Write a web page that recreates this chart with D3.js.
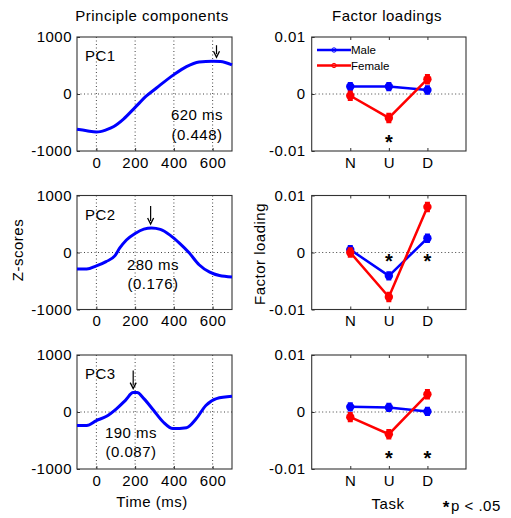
<!DOCTYPE html>
<html>
<head>
<meta charset="utf-8">
<script src="https://cdn.jsdelivr.net/npm/d3@7"></script>
<style>
  body { margin: 0; background: #fff; }
  text { font-family: "Liberation Sans", Arial, sans-serif; }
</style>
</head>
<body>
<div id="graf"></div>
<script>
// Componentes principales + cargas factoriales

// Datos
tiempo1 = [-100, -50, 0, 20, 50, 90, 140, 200, 260, 310, 400, 465, 530, 600, 640, 700]
pc1     = [-620, -645, -665, -660, -630, -570, -440, -235, -30, 105, 340, 480, 560, 575, 570, 510]
tiempo2 = [-100, -50, 0, 50, 95, 120, 155, 200, 245, 285, 330, 380, 430, 480, 530, 585, 635, 700]
pc2     = [-290, -290, -235, -160, -60, 75, 220, 335, 410, 430, 405, 305, 160, -10, -215, -345, -405, -430]
tiempo3 = [-100, -50, 0, 50, 105, 150, 190, 210, 245, 295, 345, 395, 465, 515, 565, 620, 700]
pc3     = [-235, -235, -150, -80, 60, 205, 340, 340, 235, 30, -175, -290, -275, -120, 115, 235, 275]

picos    = [620, 280, 190]
etiquetas = ['PC1', 'PC2', 'PC3']
latencia = ['620 ms', '280 ms', '190 ms']
varianza = ['(0.448)', '(0.176)', '(0.087)']

tareas = ['N', 'U', 'D']
male1   = [0.0013, 0.0013, 0.0007]
female1 = [-0.0003, -0.0042, 0.0026]
male2   = [0.0005, -0.0041, 0.0025]
female2 = [0.0000, -0.0078, 0.0080]
male3   = [0.0009, 0.0008, 0.0001]
female3 = [-0.0009, -0.0039, 0.0031]
errMale   = [0.0006, 0.0006, 0.0006]
errFemale = [0.0007, 0.0007, 0.0007]

// tareas con p < .05 y altura de la estrella
signif1 = ['U']
signif2 = ['U', 'D']
signif3 = ['U', 'D']
alturaEstrella = [-0.0076, -0.0008, -0.0073]

xTicks = [0, 200, 400, 600]
yTicksZ = [-1000, 0, 1000]
yTicksF = [-0.01, 0, 0.01]

// Geometria
ancho_total = 511
alto_total  = 518
tops  = [37, 195.5, 355]
alto  = 114
izq   = [77, 232]
der   = [311.7, 466]

svg = d3.select('#graf').append('svg')
        .attr('width', ancho_total)
        .attr('height', alto_total)

fuente = 15
espaciado = '0.5px'

x  = d3.scaleLinear().domain([-100, 700]).range(izq)
xt = d3.scalePoint().domain(['', 'N', 'U', 'D', ' ']).range(der)

componentes = [
  { t: tiempo1, v: pc1 },
  { t: tiempo2, v: pc2 },
  { t: tiempo3, v: pc3 }
]
cargas = [
  { m: male1, f: female1, s: signif1 },
  { m: male2, f: female2, s: signif2 },
  { m: male3, f: female3, s: signif3 }
]
largoFlecha = [12, 18, 18]

function txt(g, px, py, s, anchor, size) {
  return g.append('text')
          .attr('x', px).attr('y', py)
          .attr('text-anchor', anchor || 'start')
          .attr('font-size', (size || fuente) + 'px')
          .attr('letter-spacing', espaciado)
          .attr('fill', '#000')
          .text(s)
}

function estiloEje(g) {
  g.select('.domain').remove()
  g.selectAll('line').attr('stroke', '#333')
  g.selectAll('text')
    .attr('font-size', fuente + 'px')
    .attr('letter-spacing', espaciado)
    .attr('fill', '#000')
}

// estrella de significancia (texto "*")
function estrella(g, px, py, size) {
  return g.append('text')
          .attr('x', px)
          .attr('y', py + size * 0.56)
          .attr('text-anchor', 'middle')
          .attr('font-size', size + 'px')
          .attr('font-weight', 'bold')
          .attr('fill', '#000')
          .text('*')
}

tops.forEach((top, i) => {
  y = d3.scaleLinear().domain([-1000, 1000]).range([top + alto, top])
  yf = d3.scaleLinear().domain([-0.01, 0.01]).range([top + alto, top])

  // ---- panel izquierdo ----
  g = svg.append('g')

  // grilla punteada
  g.selectAll('.vgrid')
    .data(xTicks).enter()
    .append('line')
      .attr('x1', d => x(d)).attr('x2', d => x(d))
      .attr('y1', top).attr('y2', top + alto)
      .attr('stroke', '#444')
      .attr('stroke-dasharray', '1,2.5')
  g.append('line')
    .attr('x1', izq[0]).attr('x2', izq[1])
    .attr('y1', y(0)).attr('y2', y(0))
    .attr('stroke', '#444')
    .attr('stroke-dasharray', '1,2.5')

  ax = g.append('g')
        .attr('transform', `translate(0, ${ top + alto })`)
        .call(d3.axisBottom(x).tickValues(xTicks).tickSizeInner(-3).tickSizeOuter(0).tickPadding(6)
              .tickFormat(d => String(d)))
  estiloEje(ax)
  ay = g.append('g')
        .attr('transform', `translate(${ izq[0] }, 0)`)
        .call(d3.axisLeft(y).tickValues(yTicksZ).tickSizeInner(-3).tickSizeOuter(0).tickPadding(5)
              .tickFormat(d => String(d)))
  estiloEje(ay)

  g.append('rect')
    .attr('x', izq[0]).attr('y', top)
    .attr('width', izq[1] - izq[0]).attr('height', alto)
    .attr('fill', 'none').attr('stroke', '#333').attr('stroke-width', 1.1)

  c = componentes[i]
  puntos = c.t.map((t, k) => [t, c.v[k]])
  linea = d3.line().x(d => x(d[0])).y(d => y(d[1])).curve(d3.curveMonotoneX)
  g.append('path')
    .datum(puntos)
    .attr('d', linea)
    .attr('fill', 'none')
    .attr('stroke', '#0000ff')
    .attr('stroke-width', 3)
    .attr('stroke-linejoin', 'round')

  // flecha en el pico
  k = c.t.indexOf(picos[i])
  vpico = k >= 0 ? c.v[k] : d3.max(c.v)
  px = x(picos[i])
  punta = y(vpico) - 4
  g.append('line')
    .attr('x1', px).attr('x2', px)
    .attr('y1', punta - largoFlecha[i]).attr('y2', punta - 3)
    .attr('stroke', '#000').attr('stroke-width', 1.2)
  g.append('path')
    .attr('d', `M${px - 3},${punta - 6} L${px},${punta} L${px + 3},${punta - 6}`)
    .attr('fill', 'none').attr('stroke', '#000').attr('stroke-width', 1.3)

  txt(g, izq[0] + 8, top + 24, etiquetas[i])
  anotX = [197, 153, 131]
  anotY = [[120, 140], [270, 289], [438, 457]]
  txt(g, anotX[i], anotY[i][0], latencia[i], 'middle')
  txt(g, anotX[i], anotY[i][1], varianza[i], 'middle')

  // ---- panel derecho ----
  h = svg.append('g')
  h.append('line')
    .attr('x1', der[0]).attr('x2', der[1])
    .attr('y1', yf(0)).attr('y2', yf(0))
    .attr('stroke', '#444')
    .attr('stroke-dasharray', '1,2.5')

  bx = h.append('g')
        .attr('transform', `translate(0, ${ top + alto })`)
        .call(d3.axisBottom(xt).tickValues(tareas).tickSizeInner(-3).tickSizeOuter(0).tickPadding(6))
  estiloEje(bx)
  tx = h.append('g')
        .attr('transform', `translate(0, ${ top })`)
        .call(d3.axisTop(xt).tickValues(tareas).tickSizeInner(-3).tickSizeOuter(0).tickFormat(''))
  estiloEje(tx)
  by = h.append('g')
        .attr('transform', `translate(${ der[0] }, 0)`)
        .call(d3.axisLeft(yf).tickValues(yTicksF).tickSizeInner(-3).tickSizeOuter(0).tickPadding(6)
              .tickFormat(d => d === 0 ? '0' : d.toFixed(2)))
  estiloEje(by)

  h.append('rect')
    .attr('x', der[0]).attr('y', top)
    .attr('width', der[1] - der[0]).attr('height', alto)
    .attr('fill', 'none').attr('stroke', '#333').attr('stroke-width', 1.1)

  cg = cargas[i]
  series = [
    { v: cg.m, e: errMale, color: '#0000ff' },
    { v: cg.f, e: errFemale, color: '#ff0000' }
  ]
  series.forEach(s => {
    datos = tareas.map((t, k) => ({ t: t, v: s.v[k], e: s.e[k] }))
    h.append('path')
      .datum(datos)
      .attr('d', d3.line().x(d => xt(d.t)).y(d => yf(d.v)))
      .attr('fill', 'none')
      .attr('stroke', s.color)
      .attr('stroke-width', 2.5)
    h.selectAll(null)
      .data(datos).enter()
      .append('path')
        .attr('d', d => `M${xt(d.t)},${yf(d.v - d.e)} V${yf(d.v + d.e)}` +
                        `M${xt(d.t) - 2.5},${yf(d.v - d.e)} h5 M${xt(d.t) - 2.5},${yf(d.v + d.e)} h5`)
        .attr('stroke', s.color)
        .attr('stroke-width', 2.5)
        .attr('fill', 'none')
    h.selectAll(null)
      .data(datos).enter()
      .append('circle')
        .attr('cx', d => xt(d.t))
        .attr('cy', d => yf(d.v))
        .attr('r', 4.2)
        .attr('fill', s.color)
  })

  cg.s.forEach(t => estrella(h, xt(t), yf(alturaEstrella[i]), 20))
})

// Leyenda (solo primer panel)
leyenda = [
  { nombre: 'Male', color: '#0000ff' },
  { nombre: 'Female', color: '#ff0000' }
]
leyenda.forEach((l, k) => {
  ly = 50 + k * 15.5
  svg.append('line')
    .attr('x1', 317).attr('x2', 351)
    .attr('y1', ly).attr('y2', ly)
    .attr('stroke', l.color).attr('stroke-width', 2.5)
  svg.append('circle')
    .attr('cx', 334).attr('cy', ly).attr('r', 2.2)
    .attr('fill', 'none').attr('stroke', l.color).attr('stroke-width', 1)
  svg.append('text')
    .attr('x', 351).attr('y', ly + 4)
    .attr('font-size', '11.5px')
    .attr('fill', '#000')
    .text(l.nombre)
})

// Titulos y ejes
txt(svg, 152, 21, 'Principle components', 'middle')
txt(svg, 387, 21, 'Factor loadings', 'middle')
txt(svg, 152, 507, 'Time (ms)', 'middle')
txt(svg, 388, 509, 'Task', 'middle')
txt(svg, 0, 0, 'Z-scores', 'middle')
  .attr('transform', 'translate(23, 250) rotate(-90)')
txt(svg, 0, 0, 'Factor loading', 'middle')
  .attr('transform', 'translate(265, 254) rotate(-90)')

estrella(svg, 446, 503, 17)
txt(svg, 451, 511, 'p < .05')
</script>
</body>
</html>
